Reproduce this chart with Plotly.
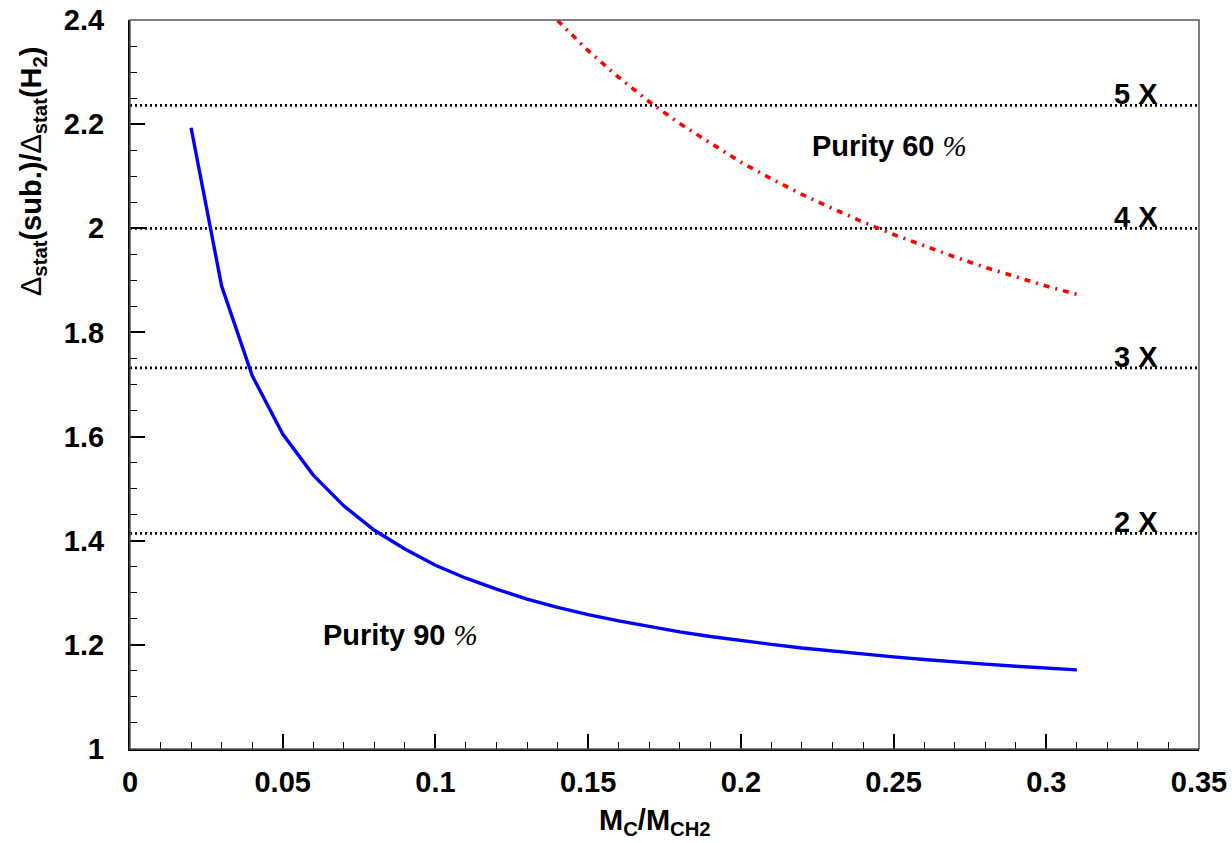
import plotly.graph_objects as go

# Mass ratio M_C / M_CH2 at which the statistical error ratio is evaluated
mass_ratio_90 = [0.02, 0.03, 0.04, 0.05, 0.06, 0.07, 0.08, 0.09, 0.10, 0.11,
                 0.12, 0.13, 0.14, 0.15, 0.16, 0.17, 0.18, 0.19, 0.20, 0.21,
                 0.22, 0.23, 0.24, 0.25, 0.26, 0.27, 0.28, 0.29, 0.30, 0.31]
error_ratio_90 = [2.193, 1.889, 1.717, 1.605, 1.526, 1.467, 1.420, 1.384, 1.353, 1.328,
                  1.307, 1.288, 1.272, 1.258, 1.246, 1.235, 1.225, 1.216, 1.208, 1.201,
                  1.194, 1.188, 1.182, 1.177, 1.172, 1.167, 1.163, 1.159, 1.156, 1.152]

mass_ratio_60 = [0.14, 0.15, 0.16, 0.17, 0.18, 0.19, 0.20, 0.21, 0.22, 0.23,
                 0.24, 0.25, 0.26, 0.27, 0.28, 0.29, 0.30, 0.31]
error_ratio_60 = [2.399, 2.341, 2.290, 2.243, 2.201, 2.163, 2.127, 2.095, 2.065, 2.038,
                  2.012, 1.988, 1.966, 1.945, 1.925, 1.907, 1.889, 1.873]

# Reference levels: equivalent beam-time factors (error grows as sqrt of factor)
level_labels = ["2 X", "3 X", "4 X", "5 X"]
level_values = [1.414, 1.732, 2.0, 2.236]
level_span = [0.0, 0.35]

FONT = "Liberation Sans, Arial, Helvetica, sans-serif"
PCT = "<span style=\"font-family:'Liberation Serif', 'Times New Roman', serif;font-style:italic;font-weight:normal\">%</span>"
DELTA = "<span style=\"font-weight:normal\">Δ</span>"

fig = go.Figure()

for lv in level_values:
    fig.add_trace(go.Scatter(
        x=level_span, y=[lv, lv], mode="lines",
        line=dict(color="black", width=2.8, dash="2px,3px"),
        showlegend=False, hoverinfo="skip"))

fig.add_trace(go.Scatter(
    x=mass_ratio_90, y=error_ratio_90, mode="lines",
    line=dict(color="#0000ff", width=3.4),
    showlegend=False))

fig.add_trace(go.Scatter(
    x=mass_ratio_60, y=error_ratio_60, mode="lines",
    line=dict(color="#ff0000", width=3.6, dash="6px,6px,2px,6px"),
    showlegend=False))

annotations = []
for lab, lv in zip(level_labels, level_values):
    annotations.append(dict(
        x=0.3372, y=lv, xref="x", yref="y", text=lab, showarrow=False,
        xanchor="right", yanchor="bottom", yshift=-7,
        font=dict(family=FONT, size=29, color="black", weight="bold")))

annotations.append(dict(
    x=0.0887, y=1.219, xref="x", yref="y", text="Purity 90 " + PCT,
    showarrow=False, xanchor="center", yanchor="middle",
    font=dict(family=FONT, size=29, color="black", weight="bold")))
annotations.append(dict(
    x=0.2488, y=2.158, xref="x", yref="y", text="Purity 60 " + PCT,
    showarrow=False, xanchor="center", yanchor="middle",
    font=dict(family=FONT, size=29, color="black", weight="bold")))

# Axis titles
annotations.append(dict(
    x=(655 - 130) / 1069, y=-0.1, xref="paper", yref="paper",
    text="M<sub>C</sub>/M<sub>CH2</sub>", showarrow=False,
    xanchor="center", yanchor="middle",
    font=dict(family=FONT, size=29, color="black", weight="bold")))
annotations.append(dict(
    x=(33 - 130) / 1069, y=(749 - 172) / 729, xref="paper", yref="paper",
    text=DELTA + "<sub>stat</sub>(sub.)/" + DELTA + "<sub>stat</sub>(H<sub>2</sub>)",
    textangle=-90, showarrow=False, xanchor="center", yanchor="middle",
    font=dict(family=FONT, size=29, color="black", weight="bold")))

tickfont = dict(family=FONT, size=29, color="black", weight="bold")

fig.update_layout(
    width=1232, height=843,
    margin=dict(l=130, r=33, t=20, b=94),
    paper_bgcolor="white", plot_bgcolor="white",
    annotations=annotations,
    shapes=[dict(type="rect", xref="paper", yref="paper", x0=0, x1=1, y0=0, y1=1,
                 line=dict(color="#555555", width=1.5), layer="above")],
    xaxis=dict(
        range=[0, 0.35], tick0=0, dtick=0.05, ticks="inside", ticklen=15,
        tickwidth=1.5, tickcolor="black", showline=True, linecolor="black",
        linewidth=2, showgrid=False, zeroline=False, tickfont=tickfont,
        ticklabelstandoff=6, automargin=False,
        minor=dict(dtick=0.01, ticks="inside", ticklen=7, tickwidth=1.2,
                   tickcolor="black", showgrid=False)),
    yaxis=dict(
        range=[1, 2.4], tick0=1, dtick=0.2, ticks="inside", ticklen=15,
        tickwidth=1.5, tickcolor="black", showline=True, linecolor="black",
        linewidth=2, showgrid=False, zeroline=False, tickfont=tickfont,
        ticklabelstandoff=18, automargin=False,
        minor=dict(dtick=0.05, ticks="inside", ticklen=7, tickwidth=1.2,
                   tickcolor="black", showgrid=False)),
)

fig.write_html("out.html")
